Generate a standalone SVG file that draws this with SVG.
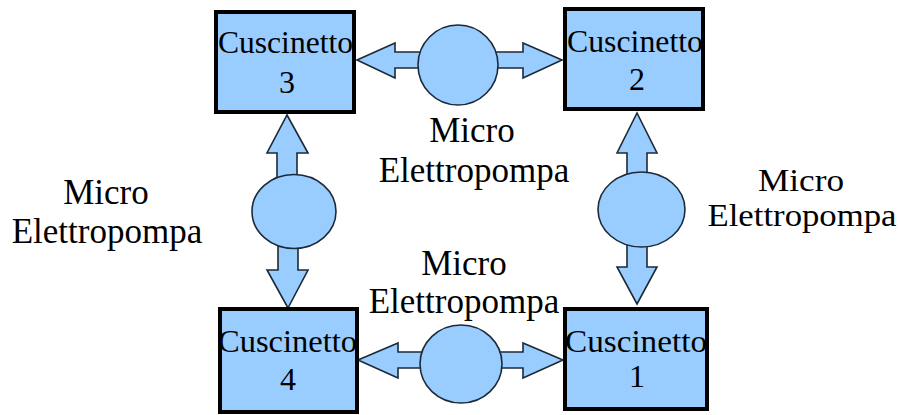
<svg xmlns="http://www.w3.org/2000/svg" width="898" height="415" viewBox="0 0 898 415">
  <style>
    .box { fill: #99ccff; stroke: #000; stroke-width: 4; }
    .pump { fill: #99ccff; stroke: #1c2a38; stroke-width: 1.6; }
    .arrow { fill: #99ccff; stroke: #1c2a38; stroke-width: 1.6; stroke-linejoin: miter; }
    .name { font-family: "Liberation Serif", "Times New Roman", serif; font-size: 32px; fill: #000; text-anchor: middle; }
    .label { font-family: "Liberation Serif", "Times New Roman", serif; font-size: 35px; fill: #000; text-anchor: middle; }
    .label.tight { font-size: 31.5px; }
  </style>

  <rect width="898" height="415" fill="#fff"/>

  <!-- connectors: double-headed arrows joined by a pump circle -->
  <g id="connectors">
    <!-- top: bearing 3 <-> bearing 2 -->
    <path class="arrow" d="M357,60 L395,43 L395,52 L425,52 L425,68 L395,68 L395,78 Z"/>
    <path class="arrow" d="M562,60 L523,43 L523,52 L490,52 L490,68 L523,68 L523,78 Z"/>
    <circle class="pump" cx="458" cy="65" r="40"/>

    <!-- bottom: bearing 4 <-> bearing 1 -->
    <path class="arrow" d="M358,360 L398,343 L398,352 L428,352 L428,368 L398,368 L398,378 Z"/>
    <path class="arrow" d="M563,360 L523,343 L523,352 L495,352 L495,368 L523,368 L523,378 Z"/>
    <ellipse class="pump" cx="461" cy="364" rx="41" ry="39"/>

    <!-- left: bearing 3 <-> bearing 4 -->
    <path class="arrow" d="M287,115 L308,153 L297,153 L297,185 L277,185 L277,153 L267,153 Z"/>
    <path class="arrow" d="M288,308 L308,270 L298,270 L298,240 L278,240 L278,270 L267,270 Z"/>
    <ellipse class="pump" cx="294" cy="211.5" rx="42" ry="37"/>

    <!-- right: bearing 2 <-> bearing 1 -->
    <path class="arrow" d="M637,113 L657,153 L647,153 L647,185 L627,185 L627,153 L617,153 Z"/>
    <path class="arrow" d="M637,304 L657,267 L647,267 L647,240 L627,240 L627,267 L617,267 Z"/>
    <ellipse class="pump" cx="641.5" cy="209.5" rx="43.5" ry="37.5"/>
  </g>

  <!-- bearing nodes -->
  <g id="cuscinetto3">
    <rect class="box" x="216" y="12" width="138" height="100"/>
    <text class="name" x="285.5" y="53" textLength="135" lengthAdjust="spacingAndGlyphs">Cuscinetto</text>
    <text class="name" x="287" y="93">3</text>
  </g>
  <g id="cuscinetto2">
    <rect class="box" x="565" y="9" width="138" height="100"/>
    <text class="name" x="635" y="52" textLength="136" lengthAdjust="spacingAndGlyphs">Cuscinetto</text>
    <text class="name" x="637" y="90">2</text>
  </g>
  <g id="cuscinetto4">
    <rect class="box" x="220" y="309" width="137" height="103"/>
    <text class="name" x="287.5" y="352" textLength="139" lengthAdjust="spacingAndGlyphs">Cuscinetto</text>
    <text class="name" x="288" y="390">4</text>
  </g>
  <g id="cuscinetto1">
    <rect class="box" x="565" y="309" width="142" height="100"/>
    <text class="name" x="636" y="352" textLength="142" lengthAdjust="spacingAndGlyphs">Cuscinetto</text>
    <text class="name" x="637" y="387">1</text>
  </g>

  <!-- pump labels -->
  <g id="label-top">
    <text class="label" x="472" y="142">Micro</text>
    <text class="label" x="474" y="182">Elettropompa</text>
  </g>
  <g id="label-left">
    <text class="label" x="106" y="204">Micro</text>
    <text class="label" x="107" y="243">Elettropompa</text>
  </g>
  <g id="label-right">
    <text class="label tight" x="801" y="191" textLength="86" lengthAdjust="spacingAndGlyphs">Micro</text>
    <text class="label tight" x="802" y="226" textLength="189" lengthAdjust="spacingAndGlyphs">Elettropompa</text>
  </g>
  <g id="label-bottom">
    <text class="label" x="464" y="275">Micro</text>
    <text class="label" x="464" y="313">Elettropompa</text>
  </g>
</svg>
